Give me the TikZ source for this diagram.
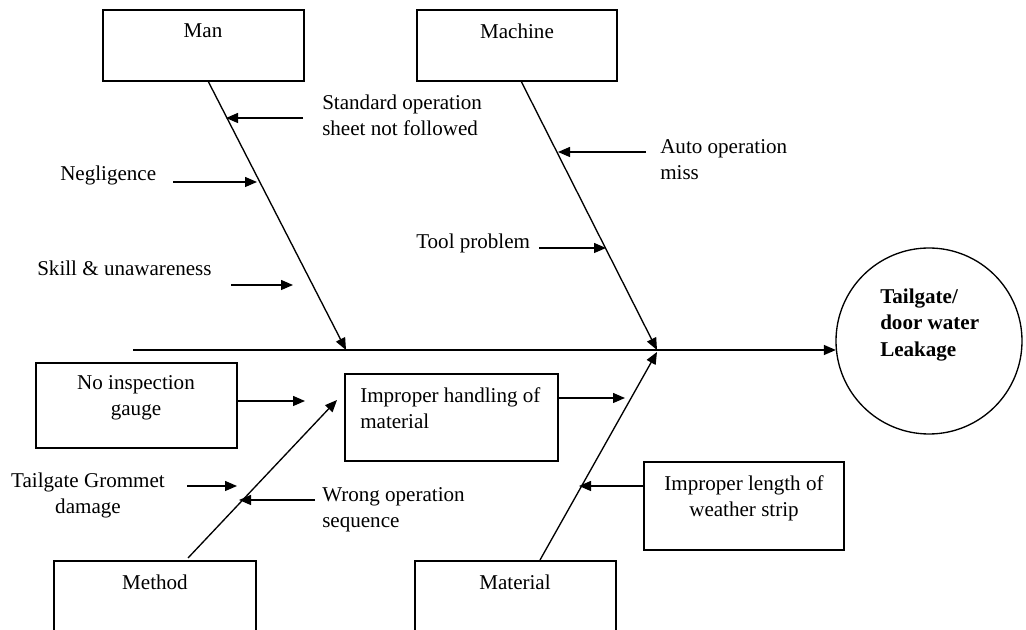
\documentclass[tikz,border=0pt]{standalone}
\usepackage{fontspec}
\setmainfont{Liberation Serif}
\usetikzlibrary{arrows.meta}
\begin{document}
\begin{tikzpicture}[x=0.75pt,y=-0.75pt,
  every node/.style={font=\fontsize{15.8pt}{19.5pt}\selectfont, inner sep=0pt},
  box/.style={draw, line width=1pt, minimum width={#1}},
  txt/.style={align=left, anchor=west},
  ctxt/.style={align=center},
  arr/.style={line width=1pt, -{Triangle[length=9pt,width=7.5pt]}}]
\useasboundingbox (0,0) rectangle (1026,630);
\clip (0,0) rectangle (1026,630);
\fill[white] (0,0) rectangle (1026,630);

% category boxes
\node[box=150.75pt, minimum height=53.25pt] (man) at (203.5,45.5) {};
\node[box=150pt, minimum height=53.25pt] (machine) at (517,45.5) {};
\node[box=151.5pt, minimum height=63pt] (method) at (155,603) {};
\node[box=150.75pt, minimum height=63pt] (material) at (515.5,603) {};
\node (manT) at (203,31) {Man};
\node (machineT) at (517,31) {Machine};
\node (methodT) at (155,582) {Method};
\node (materialT) at (515,582) {Material};

% effect
\node[circle, draw, line width=1pt, minimum size=139.5pt] (effect) at (929,341) {};
\node[txt, font=\fontsize{15.8pt}{19.8pt}\selectfont\bfseries] (effectT) at (880,325) {Tailgate/\\door water\\Leakage};

% spine
\coordinate (sp) at (133,350);
\draw[arr] (sp) -- (sp -| effect.186);

% bones
\coordinate (manA) at (208,81);
\coordinate (manB) at (346,350);
\coordinate (macA) at (521,81);
\coordinate (macB) at (657,350);
\coordinate (metA) at (188,558);
\coordinate (metB) at (337,400);
\coordinate (matA) at (540,560);
\coordinate (matB) at (657,352);
\draw[arr] (manA) -- (manB);
\draw[arr] (macA) -- (macB);
\draw[arr] (metA) -- (metB);
\draw[arr] (matA) -- (matB);

% Man causes
\node[txt] (sop) at (322,115) {Standard operation\\sheet not followed};
\coordinate (sopS) at (303,118);
\coordinate (sopE) at (226,118);
\draw[arr] (sopS) -- (sopE);
\node[txt] (neg) at (60,175) {Negligence};
\coordinate (negS) at (173,182);
\coordinate (negE) at (257,182);
\draw[arr] (negS) -- (negE);
\node[txt] (skill) at (37,268) {Skill \& unawareness};
\coordinate (skS) at (231,285);
\coordinate (skE) at (293,285);
\draw[arr] (skS) -- (skE);

% Machine causes
\node[txt] (auto) at (660,159.5) {Auto operation\\miss};
\coordinate (auS) at (646,152);
\coordinate (auE) at (558,152);
\draw[arr] (auS) -- (auE);
\node[txt] (tool) at (416,243) {Tool problem};
\coordinate (toS) at (539,248);
\coordinate (toE) at (606,248);
\draw[arr] (toS) -- (toE);

% Method causes
\node[box=150.75pt, minimum height=63.75pt] (noinsp) at (136.5,405.5) {};
\node[ctxt] (noinspT) at (136,398) {No inspection\\gauge};
\coordinate (niE) at (305,401);
\draw[arr] (noinsp.east |- niE) -- (niE);
\node[ctxt] (grom) at (88,495) {Tailgate Grommet\\damage};
\coordinate (grS) at (187,486);
\coordinate (grE) at (237,486);
\draw[arr] (grS) -- (grE);
\node[txt] (wrong) at (322,510) {Wrong operation\\sequence};
\coordinate (wrS) at (315,500);
\coordinate (wrE) at (239,500);
\draw[arr] (wrS) -- (wrE);

% Material causes
\node[box=159.75pt, minimum height=65.25pt] (handl) at (451.5,417.5) {};
\node[txt] (handlT) at (360,408) {Improper handling of\\material};
\coordinate (haE) at (625,398);
\draw[arr] (handl.east |- haE) -- (haE);
\node[box=150pt, minimum height=66pt] (length) at (744,506) {};
\node[ctxt] (lengthT) at (744,498) {Improper length of\\weather strip};
\coordinate (leE) at (579,486);
\draw[arr] (length.west |- leE) -- (leE);
\end{tikzpicture}
\end{document}
